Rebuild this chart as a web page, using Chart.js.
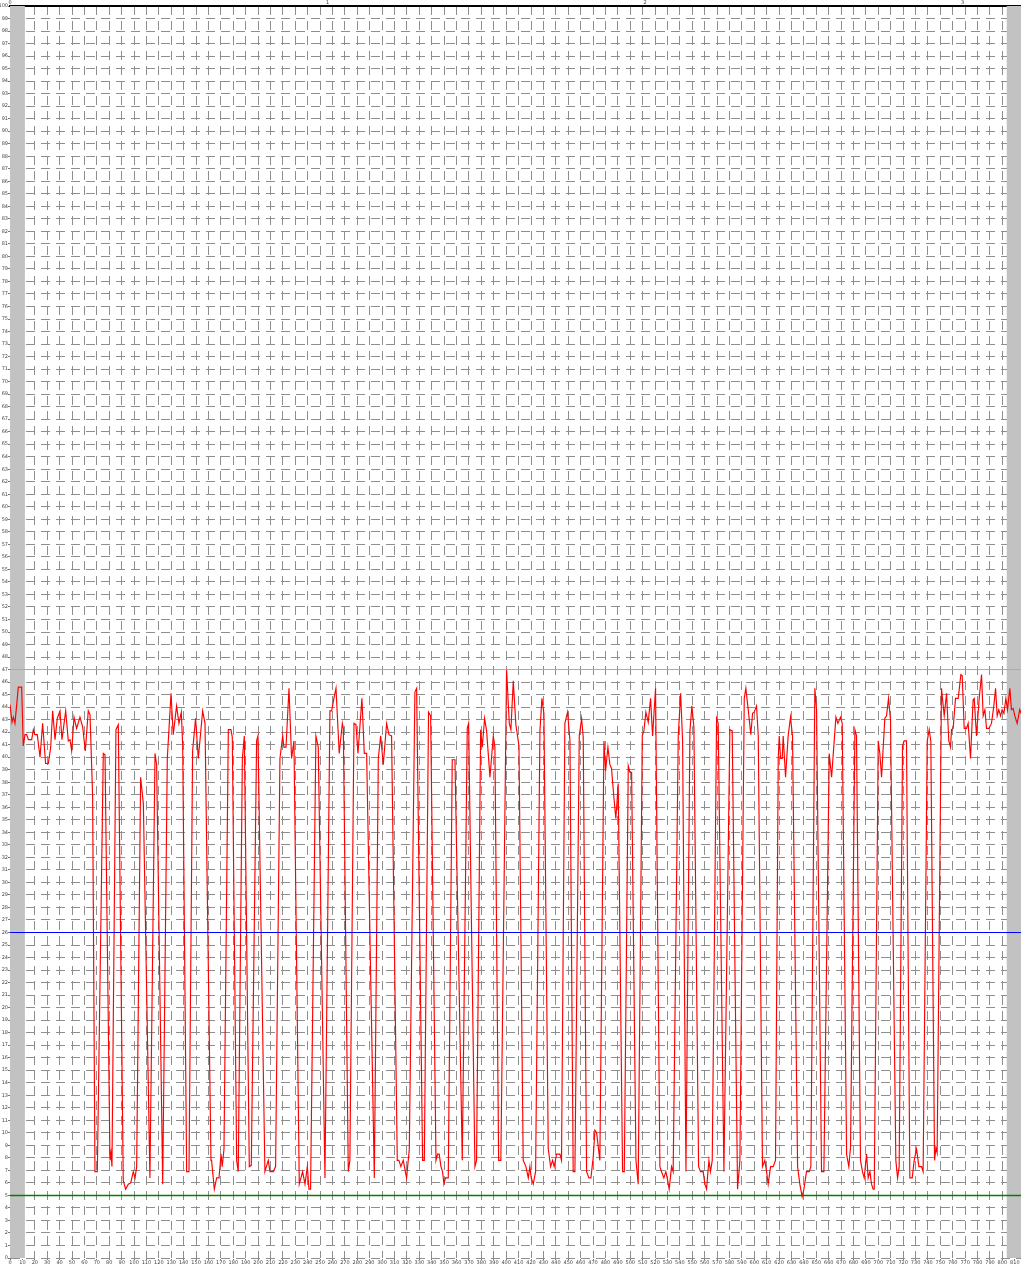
<!DOCTYPE html>
<html>
<head>
<meta charset="utf-8">
<script src="https://cdn.jsdelivr.net/npm/chart.js@4.4.1/dist/chart.umd.min.js"></script>
<style>
html,body{margin:0;padding:0;background:#ffffff;}
#wrap{width:1021px;height:1268px;position:relative;}
</style>
</head>
<body>
<div id="wrap"><canvas id="c" width="1021" height="1268"></canvas></div>
<script>
// ---- data ----
const sampleX = [
  // start (noisy plateau)
  0,1.6,2.7,4.0,6.7,9.4,10.7,12.1,13.4,14.8,
  17.5,18.8,20.1,22.0,24.2,26.3,28.7,30.9,32.8,34.4,
  36.3,38.1,40.3,41.9,44.9,47.0,48.4,49.7,51.6,53.7,
  56.4,58.6,60.7,63.1,64.5,66.6,
  // 68 - 162
  68.5,70.4,75.2,76.6,80.6,81.4,82.2,85.4,87.3,91.3,
  93.2,95.4,97.3,99.4,100.8,102.1,105.3,107.5,112.8,116.9,
  118.2,123.1,126.8,129.8,131.6,134.3,136.2,138.1,139.2,142.4,
  144.3,147.2,149.6,151.8,155.3,157.2,162.0,
  // 162 - 322
  162.5,164.7,166.6,168.5,170.1,171.1,172.5,176.0,178.1,179.2,
  182.7,184.0,187.3,188.9,192.9,194.5,198.8,199.9,205.5,208.2,
  209.6,212.2,214.1,217.6,219.8,220.8,222.5,224.9,227.0,228.9,
  233.2,235.9,237.8,239.7,241.0,242.3,246.6,248.5,253.9,257.9,
  259.3,261.1,262.8,265.4,267.9,268.7,272.7,274.0,277.3,278.9,
  280.5,283.7,285.6,287.5,293.7,296.9,298.8,300.9,303.6,305.5,
  307.6,312.2,313.5,315.1,317.0,319.7,321.9,
  // 326 - 490
  326.4,327.8,332.6,334.0,337.4,339.1,343.4,344.7,346.0,347.4,
  348.7,349.8,351.1,353.3,356.5,358.7,364.6,368.6,369.7,374.8,
  376.1,379.4,380.7,382.6,384.2,386.9,389.6,390.9,393.9,395.7,
  400.3,402.5,403.8,405.7,407.8,410.3,413.7,415.9,417.8,419.1,
  420.2,421.8,423.7,427.2,428.8,430.4,433.9,435.8,437.4,438.7,
  440.6,443.3,444.6,447.3,449.5,451.4,454.0,455.4,458.9,460.8,
  462.1,464.8,466.7,468.3,470.2,471.5,472.9,475.5,478.8,480.1,
  482.0,483.6,484.9,486.8,488.4,490.3,
  // 493 - 646
  493.8,495.2,498.4,499.7,501.1,504.6,506.4,509.7,511.0,512.6,
  514.5,516.4,518.0,520.4,523.9,525.2,527.1,528.7,529.8,531.4,
  533.3,534.6,538.7,540.6,542.2,544.9,548.1,549.7,551.3,555.1,
  556.7,558.8,560.2,561.5,563.4,564.7,566.1,569.6,570.9,575.5,
  580.3,582.2,586.5,588.4,591.9,593.2,595.1,597.2,598.6,599.9,
  601.8,603.2,606.6,608.5,609.9,611.2,613.1,615.2,617.1,619.3,
  620.1,621.2,622.5,623.3,625.2,627.3,629.2,630.8,634.9,636.7,
  638.6,640.0,642.1,644.3,645.6,
  // 648 - 815
  648.8,650.2,654.2,656.1,660.4,662.3,665.8,667.4,669.5,670.9,
  674.4,676.2,677.6,681.1,682.4,685.6,687.2,688.6,690.5,691.8,
  693.2,694.5,695.8,696.7,699.9,701.2,702.6,705.2,706.6,708.2,
  709.8,714.1,715.5,716.8,719.5,720.8,722.7,725.4,727.3,728.9,
  730.8,732.7,734.8,736.1,739.4,741.0,742.3,745.3,746.4,747.4,
  750.9,753.1,755.0,756.8,758.2,759.0,760.3,762.2,764.4,766.5,
  767.6,769.2,771.1,772.4,774.3,776.4,777.3,779.1,781.3,783.2,
  784.5,785.9,787.2,789.1,791.2,793.1,794.5,795.8,797.1,798.5,
  799.8,801.2,802.8,804.1,806.0,807.3,808.7,810.0,811.9,814.0,
  815.0
];
const signalY = [
  44.2,42.8,43.2,42.7,45.6,45.6,40.9,41.8,41.8,41.4,
  41.4,42.2,41.8,41.8,40.0,42.7,39.5,39.5,40.8,43.7,
  41.4,43.1,43.7,41.4,43.7,41.3,41.4,40.5,43.2,42.3,
  43.2,42.4,40.5,43.7,43.4,36.9,

  6.9,6.9,40.3,40.2,7.8,8.4,7.3,42.2,42.6,6.2,
  5.5,5.9,6.0,6.9,6.4,7.3,38.4,36.3,6.4,40.3,
  39.4,5.9,39.9,45.1,41.8,44.1,42.7,43.6,41.0,6.9,
  6.9,40.5,43.1,39.9,43.7,42.7,7.8,

  7.8,5.5,6.4,6.4,8.3,7.3,8.7,42.2,42.2,41.6,
  7.8,6.9,39.9,41.7,7.3,7.4,41.3,41.7,6.9,7.8,
  6.9,6.9,7.3,39.9,41.7,40.8,40.8,45.5,39.9,41.3,
  5.9,6.9,5.9,7.3,5.5,5.5,41.7,40.8,6.4,43.7,
  43.7,44.7,45.5,40.3,42.7,42.3,6.9,7.8,42.7,42.6,
  40.3,44.7,40.3,40.3,6.4,39.9,41.7,39.4,42.7,41.8,
  41.7,7.8,7.8,7.3,7.8,6.4,8.7,

  45.2,45.5,7.8,7.8,43.6,43.3,7.8,8.3,8.3,7.3,
  6.9,5.9,6.4,6.4,39.8,39.8,7.8,42.3,42.7,7.3,
  7.8,42.2,40.8,43.1,42.1,38.4,41.7,40.8,7.8,7.8,
  47.0,42.7,42.2,46.1,42.6,40.9,7.8,7.3,6.4,7.3,
  6.4,5.9,6.9,42.1,44.7,43.5,8.7,7.3,7.8,7.3,
  8.3,8.3,7.8,42.7,43.6,41.3,6.9,6.9,41.7,43.1,
  41.6,6.9,6.4,6.4,8.1,10.2,10.0,7.8,41.3,38.9,
  40.8,39.4,39.1,36.8,35.1,37.9,

  6.9,6.9,39.3,38.8,38.8,7.8,5.9,41.7,42.1,43.6,
  42.8,44.7,41.7,45.5,7.3,6.9,6.4,6.9,6.4,5.5,
  7.3,6.9,41.7,45.1,41.3,6.9,42.1,44.1,42.4,7.3,
  6.9,6.9,5.9,5.5,7.8,6.9,7.8,43.1,42.7,6.9,
  42.2,42.1,5.5,7.8,44.7,45.5,43.8,41.8,43.5,43.6,
  44.1,41.7,7.3,7.8,6.9,5.9,7.3,7.3,7.8,39.9,
  41.7,39.9,39.9,41.7,38.4,41.7,43.2,41.7,7.3,5.9,
  4.9,5.5,6.9,6.9,7.3,

  45.5,43.8,6.9,6.9,40.3,38.4,43.2,42.7,43.2,42.7,
  8.3,7.3,8.9,42.2,41.7,7.8,6.9,6.4,8.3,6.4,
  6.9,5.9,5.5,5.5,41.3,40.3,38.4,43.1,43.3,44.7,
  43.0,7.8,6.4,7.3,40.9,41.3,41.3,6.4,6.4,7.8,
  8.7,7.3,7.3,6.9,41.3,42.2,41.3,7.8,8.8,8.4,
  45.5,43.3,45.1,41.3,40.8,42.2,42.3,44.7,44.7,46.6,
  46.5,42.3,42.3,42.7,39.9,44.6,44.7,41.7,44.7,46.6,
  43.3,43.8,42.3,42.3,42.7,44.1,45.5,43.3,43.8,43.3,
  43.8,43.5,44.7,43.8,45.5,43.8,43.9,43.3,42.7,43.8,
  43.5
];
const thresholdLevels = [47, 26, 5];
const thresholdColors = ['#f2955f', '#0000ff', '#008000'];
const thresholdWidths = [1, 1.2, 1.5];
const shadedRanges = [[0, 12], [803.5, 815]];
const xRange = [0, 815];
const yRange = [0, 100];
const samplesPerSecond = 256;

// ---- chart ----
const n = Math.min(sampleX.length, signalY.length);
const signalPoints = [];
for (let i = 0; i < n; i++) signalPoints.push({x: sampleX[i], y: signalY[i]});

const refSets = thresholdLevels.map((lv, i) => ({
  data: [{x: xRange[0], y: lv}, {x: xRange[1], y: lv}],
  borderColor: thresholdColors[i],
  borderWidth: thresholdWidths[i],
  pointRadius: 0,
  fill: false
}));

const bandPlugin = {
  id: 'bands',
  beforeDatasetsDraw(chart) {
    const {ctx, chartArea, scales} = chart;
    ctx.save();
    ctx.fillStyle = '#c2c2c2';
    for (const [a, b] of shadedRanges) {
      const x1 = scales.x.getPixelForValue(a);
      const x2 = scales.x.getPixelForValue(b);
      ctx.fillRect(x1, chartArea.top, x2 - x1, chartArea.bottom - chartArea.top);
    }
    ctx.restore();
  }
};

Chart.defaults.font.family = "'DejaVu Sans', 'Liberation Sans', sans-serif";
const tinyFont = {size: 5};
const gridGray = '#8e8e8e';

new Chart(document.getElementById('c'), {
  type: 'line',
  data: {
    datasets: [
      ...refSets,
      {
        data: signalPoints,
        borderColor: '#ff0000',
        borderWidth: 1.15,
        pointRadius: 0,
        fill: false,
        tension: 0
      }
    ]
  },
  options: {
    responsive: false,
    animation: false,
    devicePixelRatio: 1,
    parsing: true,
    layout: {padding: 0},
    plugins: {legend: {display: false}, tooltip: {enabled: false}},
    scales: {
      x: {
        type: 'linear',
        position: 'bottom',
        min: xRange[0], max: xRange[1],
        afterFit(s) { s.height = 10; },
        ticks: {stepSize: 10, autoSkip: false, includeBounds: false, maxRotation: 0, padding: 0, font: tinyFont, color: '#444'},
        grid: {color: gridGray, lineWidth: 1, drawTicks: true, tickLength: 2, tickColor: '#777', tickBorderDash: []},
        border: {display: true, color: 'rgba(0,0,0,0)', dash: [9, 6], dashOffset: 0}
      },
      x2: {
        type: 'linear',
        position: 'top',
        min: xRange[0] / samplesPerSecond, max: xRange[1] / samplesPerSecond,
        afterFit(s) { s.height = 6; },
        ticks: {stepSize: 1, autoSkip: false, includeBounds: false, maxRotation: 0, padding: 0, font: tinyFont, color: '#444'},
        grid: {drawOnChartArea: false, drawTicks: false},
        border: {display: true, color: '#000', width: 2}
      },
      y: {
        type: 'linear',
        position: 'left',
        min: yRange[0], max: yRange[1],
        afterFit(s) { s.width = 10; },
        ticks: {stepSize: 1, autoSkip: false, includeBounds: false, padding: 0, font: tinyFont, color: '#444'},
        grid: {color: gridGray, lineWidth: 1, drawTicks: true, tickLength: 2, tickColor: '#777', tickBorderDash: []},
        border: {display: true, color: '#888', dash: [9, 6], dashOffset: 0}
      }
    }
  },
  plugins: [bandPlugin]
});
</script>
</body>
</html>
